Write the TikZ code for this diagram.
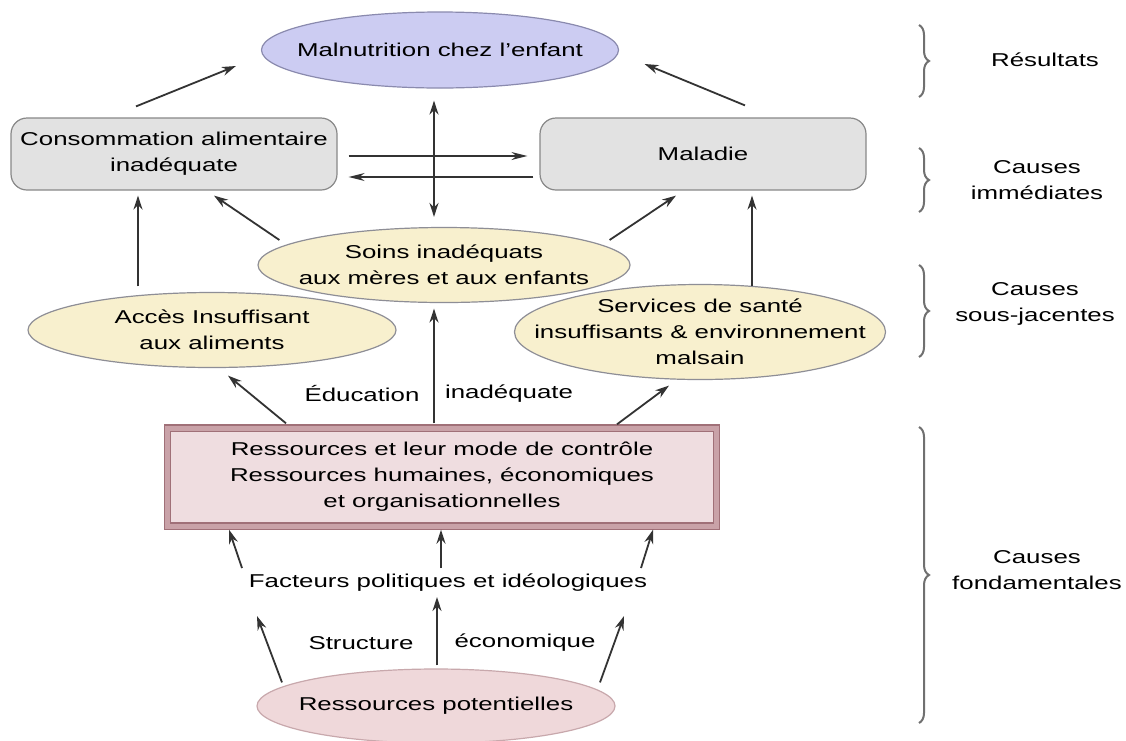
\documentclass[tikz,border=0pt]{standalone}
\usepackage{fontspec}
\setmainfont{Liberation Sans}[FakeStretch=1.39]
\usetikzlibrary{shapes.geometric,arrows.meta,decorations.pathreplacing}
\definecolor{lav}{HTML}{CCCCF2}
\definecolor{lavline}{HTML}{8A8AAE}
\definecolor{cream}{HTML}{F8F0CE}
\definecolor{creamline}{HTML}{8E8E96}
\definecolor{boxfill}{HTML}{E2E2E2}
\definecolor{boxline}{HTML}{888888}
\definecolor{resfill}{HTML}{EFDDE0}
\definecolor{resline}{HTML}{A07078}
\definecolor{resband}{HTML}{C9A2A8}
\definecolor{potfill}{HTML}{EFD8DA}
\definecolor{potline}{HTML}{C8A8AC}
\definecolor{arrcol}{HTML}{333333}
\definecolor{bracecol}{HTML}{707070}
\begin{document}
\begin{tikzpicture}[x=1pt,y=-1pt,
  every node/.style={font=\fontsize{18.6pt}{26pt}\selectfont, inner sep=0pt, align=center, text=black},
  ell/.style={ellipse, draw=creamline, line width=1.2pt, fill=cream},
  rbox/.style={rectangle, rounded corners=16pt, draw=boxline, line width=1.2pt, fill=boxfill, minimum width=326pt, minimum height=72pt},
  arr/.style={-{Stealth[length=14pt,width=9pt]}, line width=1.8pt, draw=arrcol},
  darr/.style={{Stealth[length=14pt,width=9pt]}-{Stealth[length=14pt,width=9pt]}, line width=1.8pt, draw=arrcol},
  harr/.style={-{Stealth[length=16pt,width=8pt]}, line width=1.4pt, draw=arrcol},
  brc/.style={decorate, decoration={brace, amplitude=10pt}, line width=2pt, draw=bracecol}]
\useasboundingbox (0,0) rectangle (1126,740);
\fill[white] (0,0) rectangle (1126,740);

% shapes
\node[ellipse, draw=lavline, line width=1.2pt, fill=lav, minimum width=357pt, minimum height=76pt] (maln) at (440,50) {};
\node[rbox] (cons) at (174,154) {Consommation alimentaire\\inadéquate};
\node[rbox] (mal) at (703,154) {Maladie};
\node[ell, minimum width=372pt, minimum height=75pt] (soins) at (444,265) {};
\node[ell, minimum width=368pt, minimum height=75pt] (acces) at (212,330) {};
\node[ell, minimum width=371pt, minimum height=95pt] (serv) at (700,332) {};
\node[rectangle, draw=resline, line width=1.4pt, double=resband, double distance=5pt, fill=resfill, minimum width=549pt, minimum height=98pt] (res) at (442,477) {Ressources et leur mode de contrôle\\Ressources humaines, économiques\\et organisationnelles};
\node (fact) at (448,583) {Facteurs politiques et idéologiques};
\node[ellipse, draw=potline, line width=1.2pt, fill=potfill, minimum width=358pt, minimum height=74pt] (pot) at (436,706) {};

% ellipse texts
\node (malnt) at (maln) {Malnutrition chez l'enfant};
\node (soinst) at (soins) {Soins inadéquats\\aux mères et aux enfants};
\node (accest) at (acces) {Accès Insuffisant\\aux aliments};
\node (servt) at (serv) {Services de santé\\insuffisants \& environnement\\malsain};
\node (pott) at (pot) {Ressources potentielles};

\node (educ) at (362,394) {Éducation};
\node (inadq) at (509,394) {inadéquate};
\node (struc) at (361,643) {Structure};
\node (econ) at (525,643) {économique};

% arrows
\draw[arr] ([shift={(-38,-11)}]cons.north) -- ([shift={(-25,16)}]maln.west);
\draw[arr] ([shift={(42,-12)}]mal.north) -- ([shift={(25.5,14)}]maln.east);
\draw[harr] ([shift={(11,2)}]cons.east) -- ([shift={(-12,2)}]mal.west);
\draw[harr] ([shift={(-6,23)}]mal.west) -- ([shift={(11,23)}]cons.east);
\draw[darr] ([shift={(-6,12)}]maln.south) -- ([shift={(-10,-10)}]soins.north);
\draw[arr] ([shift={(-74,-5.5)}]acces.north) -- ([shift={(-36,5)}]cons.south);
\draw[arr] ([shift={(22,-25)}]soins.west) -- ([shift={(40,5)}]cons.south);
\draw[arr] ([shift={(-21,-25)}]soins.east) -- ([shift={(-27,5)}]mal.south);
\draw[arr] ([shift={(52,2.5)}]serv.north) -- ([shift={(49,5)}]mal.south);
\draw[arr] ([shift={(-156,-4)}]res.north) -- ([shift={(16,7.5)}]acces.south);
\draw[arr] ([shift={(-8,-4)}]res.north) -- ([shift={(-10,5.5)}]soins.south);
\draw[arr] ([shift={(175,-3)}]res.north) -- ([shift={(-31,5.5)}]serv.south);
\draw[arr] ([shift={(-206,-15)}]fact.center) -- ([shift={(-213,3)}]res.south);
\draw[arr] ([shift={(-7,-15)}]fact.center) -- ([shift={(-1,3)}]res.south);
\draw[arr] ([shift={(193,-15)}]fact.center) -- ([shift={(211,3)}]res.south);
\draw[arr] ([shift={(-154,14)}]pot.north) -- ([shift={(-191,33)}]fact.center);
\draw[arr] ([shift={(1,-3)}]pot.north) -- ([shift={(-11,14)}]fact.center);
\draw[arr] ([shift={(164,14)}]pot.north) -- ([shift={(176,33)}]fact.center);

% braces
\draw[brc] (919,25) -- (919,97);
\draw[brc] (919,148) -- (919,212);
\draw[brc] (919,265) -- (919,357);
\draw[brc] (919,427) -- (919,723);
\node (r1) at (1045,60) {Résultats};
\node (r2) at (1037,180) {Causes\\immédiates};
\node (r3) at (1035,304) {Causes\\sous-jacentes};
\node (r4) at (1037,570) {Causes\\fondamentales};
\end{tikzpicture}
\end{document}
